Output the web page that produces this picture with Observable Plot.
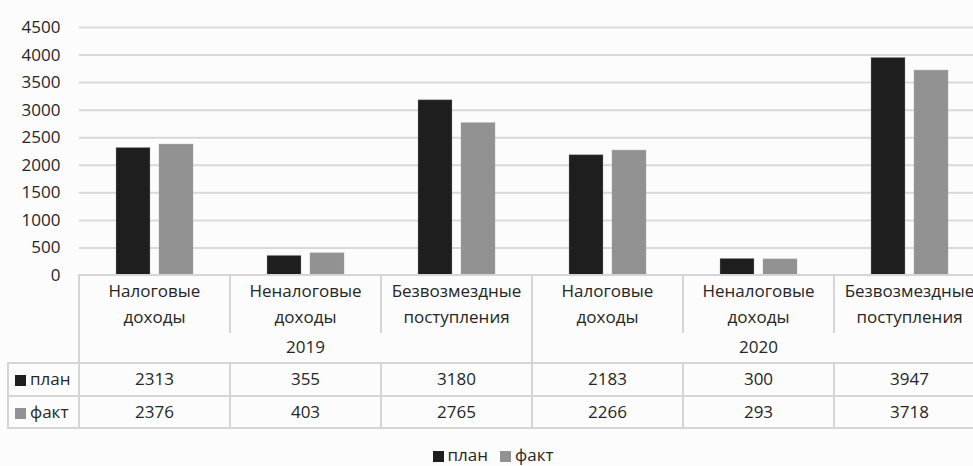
<!DOCTYPE html>
<html>
<head>
<meta charset="utf-8">
<script src="https://cdn.jsdelivr.net/npm/d3@7"></script>
<script src="https://cdn.jsdelivr.net/npm/@observablehq/plot@0.6"></script>
<style>
  html, body { margin: 0; padding: 0; overflow: hidden; background: #fcfcfc; }
  #wrap { position: relative; width: 973px; height: 466px; overflow: hidden; background: #fcfcfc;
          font-family: "Open Sans", sans-serif; color: #262626; }
  #wrap svg { position: absolute; left: 0; top: 0; max-width: none !important; width: 990px !important; height: 276px !important; }
  #wrap svg text { font-size: 17px; fill: #262626; }
  .ln { position: absolute; background: #d5d5d5; }
  .tx { position: absolute; font-size: 17px; white-space: nowrap; line-height: 1.1; }
  .sw { display: inline-block; width: 11px; height: 11px; margin-right: 4px; vertical-align: -1px; }
</style>
</head>
<body>
<div id="wrap"></div>
<script>
// ---- data ----
const years = ["2019", "2020"];
const categories = ["Налоговые доходы", "Неналоговые доходы", "Безвозмездные поступления"];
const series = ["план", "факт"];
const plan = [2313, 355, 3180, 2183, 300, 3947];
const fact = [2376, 403, 2765, 2266, 293, 3718];
const yTicks = [0, 500, 1000, 1500, 2000, 2500, 3000, 3500, 4000, 4500];
const colors = ["#1e1e1e", "#929292"];

// ---- build table for Plot ----
const keys = [];
years.forEach(y => categories.forEach(c => keys.push(y + "|" + c)));
const values = { "план": plan, "факт": fact };
const rows = [];
keys.forEach((k, i) => series.forEach(s => rows.push({ key: k, series: s, value: values[s][i] })));

const wrap = document.getElementById("wrap");
const chart = Plot.plot({
  width: 990,
  height: 276,
  marginLeft: 79,
  marginRight: 5,
  marginTop: 27,
  marginBottom: 1,
  style: { background: "transparent", fontFamily: "Open Sans, sans-serif", fontSize: "17px", color: "#262626", overflow: "visible" },
  facet: { data: rows, x: "key" },
  fx: { domain: keys, padding: 0, axis: null },
  x: { domain: series, paddingInner: 0.21, paddingOuter: 0.86, axis: null },
  y: { domain: [0, 4500], ticks: yTicks, tickFormat: d3.format("d"), tickSize: 0, tickPadding: 19, label: null },
  color: { domain: series, range: colors },
  marks: [
    Plot.ruleY(yTicks.filter(d => d > 0), { stroke: "#d9d9d9", strokeWidth: 2 }),
    Plot.barY(rows, { x: "series", y: "value", fill: "series", stroke: "#a0a0a0", strokeOpacity: 0.35, strokeWidth: 1 })
  ]
});
wrap.appendChild(chart);

// ---- data table under the chart, aligned on the fx scale ----
const fxs = chart.scale("fx");
const bw = fxs.bandwidth;
const colX = keys.map(k => fxs.apply(k));
const xEnd = colX[colX.length - 1] + bw;
const leftX = 8;
const yTop = 275, yCat = 332, yYear = 363, yR1 = 396, yR2 = 428;

function hline(x1, x2, y) { const d = document.createElement("div"); d.className = "ln";
  Object.assign(d.style, { left: x1 - 1 + "px", top: y - 1 + "px", width: (x2 - x1 + 2) + "px", height: "2px" }); wrap.appendChild(d); }
function vline(x, y1, y2) { const d = document.createElement("div"); d.className = "ln";
  Object.assign(d.style, { left: x - 1 + "px", top: y1 - 1 + "px", width: "2px", height: (y2 - y1 + 2) + "px" }); wrap.appendChild(d); }
function text(str, cx, cy, align) {
  const d = document.createElement("div"); d.className = "tx"; d.innerHTML = str; wrap.appendChild(d);
  const r = d.getBoundingClientRect();
  const x = align === "left" ? cx : cx - r.width / 2;
  d.style.left = x + "px"; d.style.top = (cy - r.height / 2) + "px";
  return d;
}
const bounds = colX.concat([xEnd]);
hline(colX[0], xEnd, yTop);
bounds.forEach(x => vline(x, yTop, yCat));
[0, 3, 6].forEach(i => vline(bounds[i], yCat, yYear));
[yYear, yR1, yR2].forEach(y => hline(leftX, xEnd, y));
vline(leftX, yYear, yR2);
bounds.forEach(x => vline(x, yYear, yR2));

keys.forEach((k, i) => {
  const words = k.split("|")[1].split(" ");
  const cx = colX[i] + bw / 2;
  text(words[0], cx, 291);
  text(words[1], cx, 317);
});
years.forEach((y, j) => text(y, (bounds[j * 3] + bounds[j * 3 + 3]) / 2, 347));

const rowY = [379.5, 412];
series.forEach((s, si) => {
  text(`<span class="sw" style="background:${colors[si]}"></span>${s}`, 15, rowY[si], "left");
  values[s].forEach((v, i) => text(String(v), colX[i] + bw / 2, rowY[si]));
});

// legend
const leg = text(series.map((s, si) => `<span class="sw" style="background:${colors[si]}"></span>${s}`).join('<span style="display:inline-block;width:12px"></span>'), 0, 455, "left");
leg.style.left = (493 - leg.getBoundingClientRect().width / 2) + "px";
</script>
</body>
</html>
